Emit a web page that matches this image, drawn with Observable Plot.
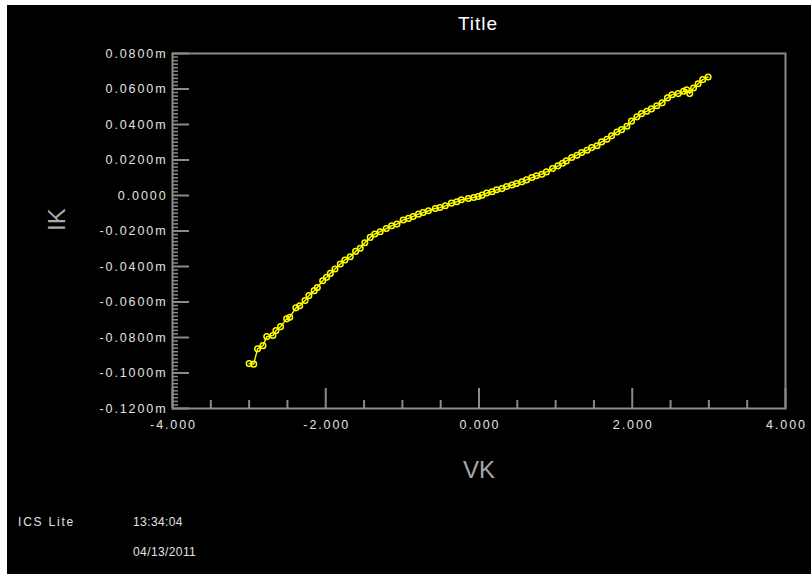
<!DOCTYPE html>
<html><head><meta charset="utf-8">
<script src="https://cdn.jsdelivr.net/npm/d3@7"></script>
<script src="https://cdn.jsdelivr.net/npm/@observablehq/plot@0.6"></script>
<style>
html,body{margin:0;padding:0;background:#fff;width:811px;height:574px;overflow:hidden;}
#panel{position:absolute;left:7px;top:5px;width:804px;height:569px;background:#000;font-family:"Liberation Sans",Arial,sans-serif;}
#chart{position:absolute;left:0;top:0;}
.lbl{position:absolute;color:#e2e2e2;white-space:nowrap;line-height:13px;}
.ics text{letter-spacing:1.9px;}
.ics g[aria-label="text"] text{letter-spacing:0;}
</style></head>
<body><div id="panel">
<div class="lbl" style="left:471px;top:19px;transform:translate(-50%,-50%);font-size:19px;line-height:22px;letter-spacing:1px;color:#fff;">Title</div>
<div class="lbl" style="left:11px;top:511px;font-size:12px;letter-spacing:1.8px;">ICS Lite</div>
<div class="lbl" style="left:126px;top:511px;font-size:12px;letter-spacing:0.4px;">13:34:04</div>
<div class="lbl" style="left:126px;top:541px;font-size:12px;letter-spacing:0.4px;">04/13/2011</div>
<div id="chart"></div>
</div>
<script>
const vk = [-3.00,-2.94,-2.89,-2.82,-2.77,-2.69,-2.65,-2.59,-2.51,-2.47,-2.39,-2.34,-2.27,-2.22,-2.15,-2.11,-2.04,-1.99,-1.94,-1.88,-1.81,-1.75,-1.68,-1.61,-1.55,-1.49,-1.42,-1.36,-1.29,-1.21,-1.14,-1.07,-0.99,-0.92,-0.86,-0.79,-0.73,-0.66,-0.57,-0.51,-0.44,-0.36,-0.29,-0.23,-0.14,-0.07,-0.01,0.04,0.10,0.17,0.23,0.30,0.36,0.43,0.49,0.56,0.62,0.69,0.75,0.82,0.88,0.96,1.03,1.09,1.14,1.21,1.28,1.34,1.41,1.47,1.54,1.60,1.67,1.73,1.80,1.86,1.93,1.99,2.06,2.12,2.19,2.25,2.32,2.39,2.46,2.52,2.60,2.67,2.71,2.75,2.80,2.86,2.92,2.99];
const ik = [-0.0947,-0.0950,-0.0864,-0.0846,-0.0795,-0.0789,-0.0761,-0.0739,-0.0695,-0.0686,-0.0633,-0.0621,-0.0592,-0.0564,-0.0536,-0.0518,-0.0480,-0.0461,-0.0439,-0.0414,-0.0386,-0.0363,-0.0345,-0.0315,-0.0297,-0.0266,-0.0236,-0.0217,-0.0204,-0.0186,-0.0170,-0.0161,-0.0138,-0.0129,-0.0118,-0.0105,-0.0096,-0.0086,-0.0073,-0.0068,-0.0058,-0.0043,-0.0035,-0.0024,-0.0017,-0.0011,-0.0006,0.0002,0.0014,0.0021,0.0032,0.0039,0.0051,0.0059,0.0068,0.0077,0.0088,0.0101,0.0111,0.0120,0.0133,0.0152,0.0167,0.0182,0.0195,0.0214,0.0227,0.0242,0.0255,0.0270,0.0280,0.0302,0.0317,0.0336,0.0358,0.0371,0.0390,0.0419,0.0443,0.0461,0.0475,0.0488,0.0506,0.0522,0.0550,0.0568,0.0574,0.0587,0.0596,0.0574,0.0606,0.0630,0.0653,0.0668];
const xTicks = [-4, -2, 0, 2, 4];
const yTicks = [-0.12, -0.10, -0.08, -0.06, -0.04, -0.02, 0, 0.02, 0.04, 0.06, 0.08];
const xTickLabels = ["-4.000", "-2.000", "0.000", "2.000", "4.000"];
const yTickLabels = ["-0.1200m", "-0.1000m", "-0.0800m", "-0.0600m", "-0.0400m", "-0.0200m", "0.0000", "0.0200m", "0.0400m", "0.0600m", "0.0800m"];
const xLabel = "VK", yLabel = "IK";

const data = vk.map((v, i) => ({vk: v, ik: ik[i]}));
const W = 804, H = 569, mL = 165, mR = 26, mT = 48, mB = 166;
const pw = W - mL - mR, ph = H - mT - mB;
const xMinor = d3.range(-3.5, 4, 0.5).filter(v => Math.abs(v % 2) > 1e-9);
const yMinor = d3.range(-118, 80, 2).map(v => v / 1000).filter(v => Math.abs(Math.round(v * 1000) % 20) !== 0);
const gray = "#8a8a8a";

const plot = Plot.plot({
  width: W, height: H,
  marginLeft: mL, marginRight: mR, marginTop: mT, marginBottom: mB,
  className: "ics",
  style: {background: "transparent", color: "#e2e2e2", fontFamily: "Liberation Sans, Arial, sans-serif", fontSize: "12.5px"},
  x: {domain: [-4, 4]},
  y: {domain: [-0.12, 0.08]},
  marks: [
    Plot.tickX(xMinor, {x: d => d, stroke: gray, strokeWidth: 2, insetTop: ph - 8}),
    Plot.tickX(xTicks, {x: d => d, stroke: gray, strokeWidth: 2, insetTop: ph - 20}),
    Plot.tickY(yMinor, {y: d => d, stroke: gray, strokeWidth: 1.5, insetRight: pw - 6}),
    Plot.tickY(yTicks, {y: d => d, stroke: gray, strokeWidth: 2, insetRight: pw - 17}),
    Plot.frame({stroke: gray, strokeWidth: 2}),
    Plot.axisX(xTicks, {tickSize: 0, tickPadding: 12, tickFormat: (d, i) => xTickLabels[i], label: null, dx: 1, fill: "#e2e2e2"}),
    Plot.axisY(yTicks, {tickSize: 0, tickPadding: 5, tickFormat: (d, i) => yTickLabels[i], label: null, fill: "#e2e2e2"}),
    Plot.text([xLabel], {frameAnchor: "bottom", dy: 69, fill: "#a8a8a8", fontSize: 24}),
    Plot.text([yLabel], {frameAnchor: "left", dx: -115, rotate: -90, fill: "#a8a8a8", fontSize: 24}),
    Plot.line(data, {x: "vk", y: "ik", stroke: "#ffff00", strokeWidth: 1.4}),
    Plot.dot(data, {x: "vk", y: "ik", r: 2.8, stroke: "#ffff00", strokeWidth: 1.5, fill: "none"})
  ]
});
document.getElementById("chart").appendChild(plot);
</script>
</body></html>
